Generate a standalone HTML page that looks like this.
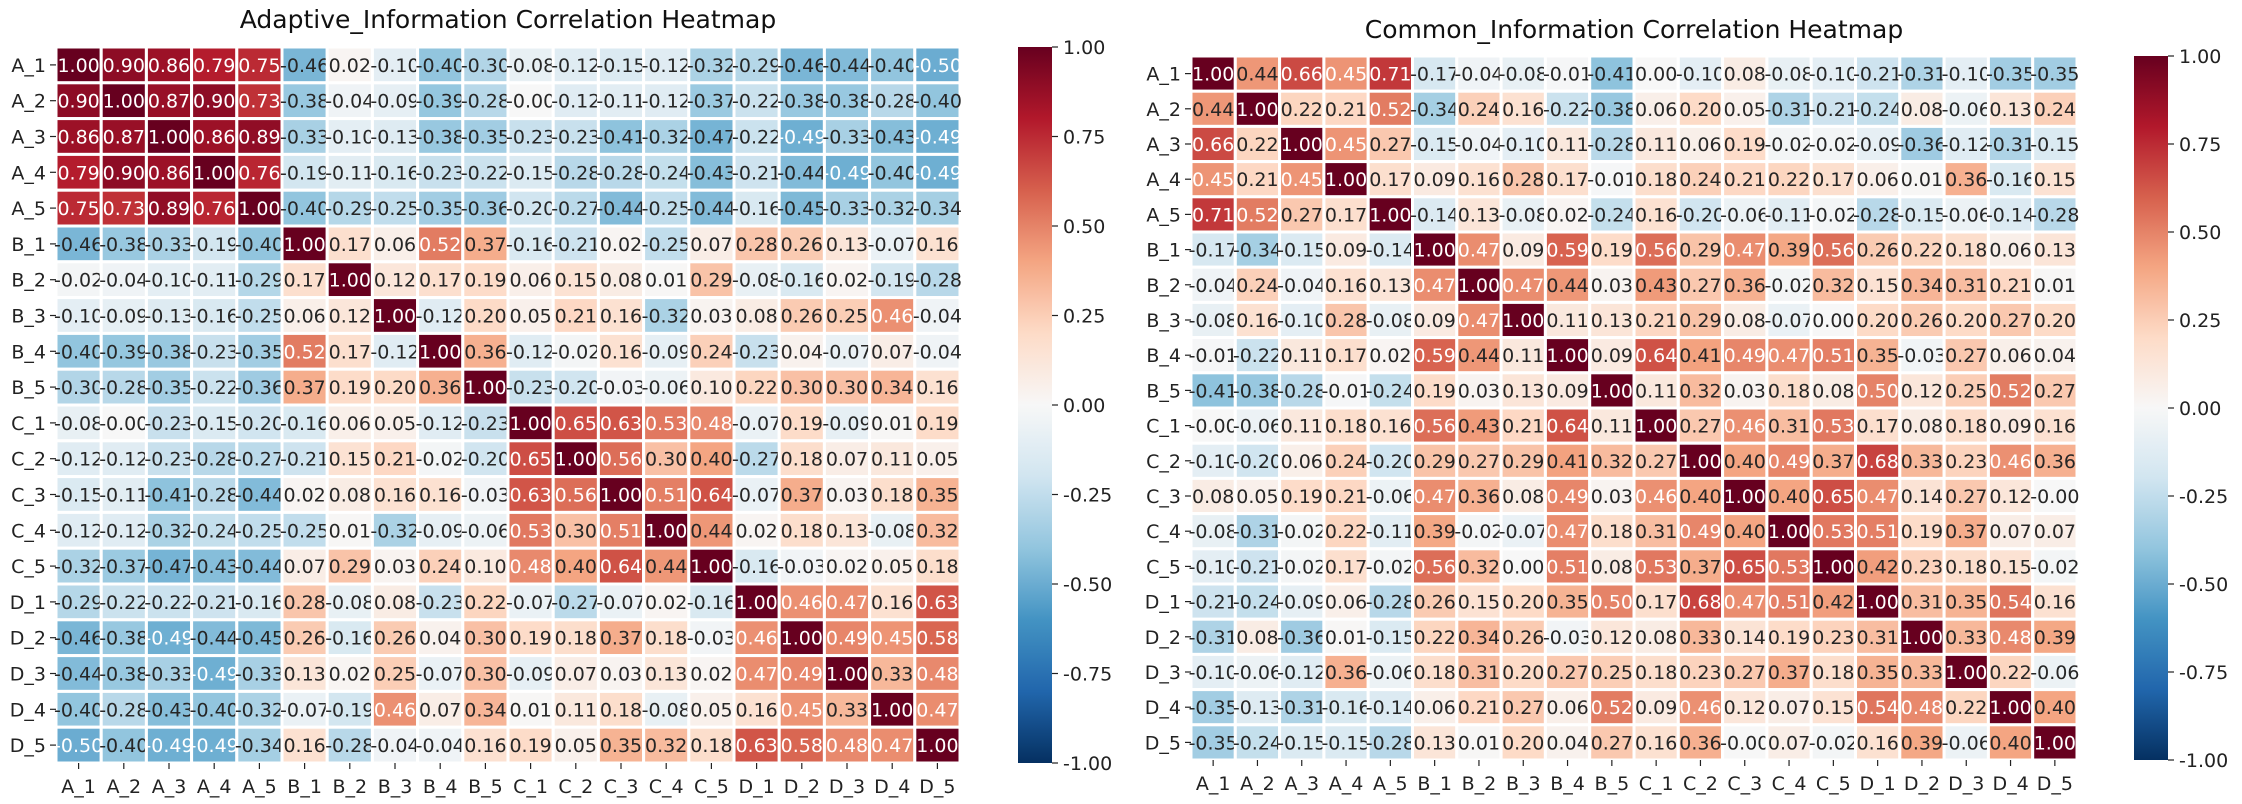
<!DOCTYPE html>
<html><head><meta charset="utf-8"><style>
html,body{margin:0;padding:0;background:#fff;}
svg{display:block;font-family:"DejaVu Sans","Liberation Sans",sans-serif;}
</style></head><body>
<svg id="chart" width="2242" height="804" viewBox="0 0 2242 804" xmlns="http://www.w3.org/2000/svg"></svg>
<script>
const labels = ["A_1","A_2","A_3","A_4","A_5","B_1","B_2","B_3","B_4","B_5","C_1","C_2","C_3","C_4","C_5","D_1","D_2","D_3","D_4","D_5"];
const cbarTicks = [1.00,0.75,0.50,0.25,0.00,-0.25,-0.50,-0.75,-1.00];
const adaptiveValues = [
[1.00,0.90,0.86,0.79,0.75,-0.46,0.02,-0.10,-0.40,-0.30,-0.08,-0.12,-0.15,-0.12,-0.32,-0.29,-0.46,-0.44,-0.40,-0.50],
[0.90,1.00,0.87,0.90,0.73,-0.38,-0.04,-0.09,-0.39,-0.28,-0.00,-0.12,-0.11,-0.12,-0.37,-0.22,-0.38,-0.38,-0.28,-0.40],
[0.86,0.87,1.00,0.86,0.89,-0.33,-0.10,-0.13,-0.38,-0.35,-0.23,-0.23,-0.41,-0.32,-0.47,-0.22,-0.49,-0.33,-0.43,-0.49],
[0.79,0.90,0.86,1.00,0.76,-0.19,-0.11,-0.16,-0.23,-0.22,-0.15,-0.28,-0.28,-0.24,-0.43,-0.21,-0.44,-0.49,-0.40,-0.49],
[0.75,0.73,0.89,0.76,1.00,-0.40,-0.29,-0.25,-0.35,-0.36,-0.20,-0.27,-0.44,-0.25,-0.44,-0.16,-0.45,-0.33,-0.32,-0.34],
[-0.46,-0.38,-0.33,-0.19,-0.40,1.00,0.17,0.06,0.52,0.37,-0.16,-0.21,0.02,-0.25,0.07,0.28,0.26,0.13,-0.07,0.16],
[-0.02,-0.04,-0.10,-0.11,-0.29,0.17,1.00,0.12,0.17,0.19,0.06,0.15,0.08,0.01,0.29,-0.08,-0.16,0.02,-0.19,-0.28],
[-0.10,-0.09,-0.13,-0.16,-0.25,0.06,0.12,1.00,-0.12,0.20,0.05,0.21,0.16,-0.32,0.03,0.08,0.26,0.25,0.46,-0.04],
[-0.40,-0.39,-0.38,-0.23,-0.35,0.52,0.17,-0.12,1.00,0.36,-0.12,-0.02,0.16,-0.09,0.24,-0.23,0.04,-0.07,0.07,-0.04],
[-0.30,-0.28,-0.35,-0.22,-0.36,0.37,0.19,0.20,0.36,1.00,-0.23,-0.20,-0.03,-0.06,0.10,0.22,0.30,0.30,0.34,0.16],
[-0.08,-0.00,-0.23,-0.15,-0.20,-0.16,0.06,0.05,-0.12,-0.23,1.00,0.65,0.63,0.53,0.48,-0.07,0.19,-0.09,0.01,0.19],
[-0.12,-0.12,-0.23,-0.28,-0.27,-0.21,0.15,0.21,-0.02,-0.20,0.65,1.00,0.56,0.30,0.40,-0.27,0.18,0.07,0.11,0.05],
[-0.15,-0.11,-0.41,-0.28,-0.44,0.02,0.08,0.16,0.16,-0.03,0.63,0.56,1.00,0.51,0.64,-0.07,0.37,0.03,0.18,0.35],
[-0.12,-0.12,-0.32,-0.24,-0.25,-0.25,0.01,-0.32,-0.09,-0.06,0.53,0.30,0.51,1.00,0.44,0.02,0.18,0.13,-0.08,0.32],
[-0.32,-0.37,-0.47,-0.43,-0.44,0.07,0.29,0.03,0.24,0.10,0.48,0.40,0.64,0.44,1.00,-0.16,-0.03,0.02,0.05,0.18],
[-0.29,-0.22,-0.22,-0.21,-0.16,0.28,-0.08,0.08,-0.23,0.22,-0.07,-0.27,-0.07,0.02,-0.16,1.00,0.46,0.47,0.16,0.63],
[-0.46,-0.38,-0.49,-0.44,-0.45,0.26,-0.16,0.26,0.04,0.30,0.19,0.18,0.37,0.18,-0.03,0.46,1.00,0.49,0.45,0.58],
[-0.44,-0.38,-0.33,-0.49,-0.33,0.13,0.02,0.25,-0.07,0.30,-0.09,0.07,0.03,0.13,0.02,0.47,0.49,1.00,0.33,0.48],
[-0.40,-0.28,-0.43,-0.40,-0.32,-0.07,-0.19,0.46,0.07,0.34,0.01,0.11,0.18,-0.08,0.05,0.16,0.45,0.33,1.00,0.47],
[-0.50,-0.40,-0.49,-0.49,-0.34,0.16,-0.28,-0.04,-0.04,0.16,0.19,0.05,0.35,0.32,0.18,0.63,0.58,0.48,0.47,1.00]
];
const commonValues = [
[1.00,0.44,0.66,0.45,0.71,-0.17,-0.04,-0.08,-0.01,-0.41,0.00,-0.10,0.08,-0.08,-0.10,-0.21,-0.31,-0.10,-0.35,-0.35],
[0.44,1.00,0.22,0.21,0.52,-0.34,0.24,0.16,-0.22,-0.38,0.06,0.20,0.05,-0.31,-0.21,-0.24,0.08,-0.06,0.13,0.24],
[0.66,0.22,1.00,0.45,0.27,-0.15,-0.04,-0.10,0.11,-0.28,0.11,0.06,0.19,-0.02,-0.02,-0.09,-0.36,-0.12,-0.31,-0.15],
[0.45,0.21,0.45,1.00,0.17,0.09,0.16,0.28,0.17,-0.01,0.18,0.24,0.21,0.22,0.17,0.06,0.01,0.36,-0.16,0.15],
[0.71,0.52,0.27,0.17,1.00,-0.14,0.13,-0.08,0.02,-0.24,0.16,-0.20,-0.06,-0.11,-0.02,-0.28,-0.15,-0.06,-0.14,-0.28],
[-0.17,-0.34,-0.15,0.09,-0.14,1.00,0.47,0.09,0.59,0.19,0.56,0.29,0.47,0.39,0.56,0.26,0.22,0.18,0.06,0.13],
[-0.04,0.24,-0.04,0.16,0.13,0.47,1.00,0.47,0.44,0.03,0.43,0.27,0.36,-0.02,0.32,0.15,0.34,0.31,0.21,0.01],
[-0.08,0.16,-0.10,0.28,-0.08,0.09,0.47,1.00,0.11,0.13,0.21,0.29,0.08,-0.07,0.00,0.20,0.26,0.20,0.27,0.20],
[-0.01,-0.22,0.11,0.17,0.02,0.59,0.44,0.11,1.00,0.09,0.64,0.41,0.49,0.47,0.51,0.35,-0.03,0.27,0.06,0.04],
[-0.41,-0.38,-0.28,-0.01,-0.24,0.19,0.03,0.13,0.09,1.00,0.11,0.32,0.03,0.18,0.08,0.50,0.12,0.25,0.52,0.27],
[-0.00,-0.06,0.11,0.18,0.16,0.56,0.43,0.21,0.64,0.11,1.00,0.27,0.46,0.31,0.53,0.17,0.08,0.18,0.09,0.16],
[-0.10,-0.20,0.06,0.24,-0.20,0.29,0.27,0.29,0.41,0.32,0.27,1.00,0.40,0.49,0.37,0.68,0.33,0.23,0.46,0.36],
[0.08,0.05,0.19,0.21,-0.06,0.47,0.36,0.08,0.49,0.03,0.46,0.40,1.00,0.40,0.65,0.47,0.14,0.27,0.12,-0.00],
[-0.08,-0.31,-0.02,0.22,-0.11,0.39,-0.02,-0.07,0.47,0.18,0.31,0.49,0.40,1.00,0.53,0.51,0.19,0.37,0.07,0.07],
[-0.10,-0.21,-0.02,0.17,-0.02,0.56,0.32,0.00,0.51,0.08,0.53,0.37,0.65,0.53,1.00,0.42,0.23,0.18,0.15,-0.02],
[-0.21,-0.24,-0.09,0.06,-0.28,0.26,0.15,0.20,0.35,0.50,0.17,0.68,0.47,0.51,0.42,1.00,0.31,0.35,0.54,0.16],
[-0.31,0.08,-0.36,0.01,-0.15,0.22,0.34,0.26,-0.03,0.12,0.08,0.33,0.14,0.19,0.23,0.31,1.00,0.33,0.48,0.39],
[-0.10,-0.06,-0.12,0.36,-0.06,0.18,0.31,0.20,0.27,0.25,0.18,0.23,0.27,0.37,0.18,0.35,0.33,1.00,0.22,-0.06],
[-0.35,-0.13,-0.31,-0.16,-0.14,0.06,0.21,0.27,0.06,0.52,0.09,0.46,0.12,0.07,0.15,0.54,0.48,0.22,1.00,0.40],
[-0.35,-0.24,-0.15,-0.15,-0.28,0.13,0.01,0.20,0.04,0.27,0.16,0.36,-0.00,0.07,-0.02,0.16,0.39,-0.06,0.40,1.00]
];

const NS = "http://www.w3.org/2000/svg";
const svg = document.getElementById('chart');
const stops = ["#053061","#2166ac","#4393c3","#92c5de","#d1e5f0","#f7f7f7","#fddbc7","#f4a582","#d6604d","#b2182b","#67001f"].map(h=>[parseInt(h.slice(1,3),16),parseInt(h.slice(3,5),16),parseInt(h.slice(5,7),16)]);
function cmap(v){
  let t = (Math.max(-1,Math.min(1,v))+1)/2*10;
  let i = Math.min(9,Math.floor(t)), f = t-i;
  return stops[i].map((c,k)=>Math.round(c+(stops[i+1][k]-c)*f));
}
function lum(c){
  const l = c.map(x=>{x/=255;return x<=0.03928?x/12.92:Math.pow((x+0.055)/1.055,2.4);});
  return 0.2126*l[0]+0.7152*l[1]+0.0722*l[2];
}
function mk(tag, attrs, parent){
  const e = document.createElementNS(NS, tag);
  for (const k in attrs) e.setAttribute(k, attrs[k]);
  (parent||svg).appendChild(e);
  return e;
}
function fmt(v){ return (Object.is(v,-0) ? '-' : '') + v.toFixed(2); }

function drawHeatmap(cfg){
  const g = mk('g', {});
  
  
  const n = labels.length;
  const cw = cfg.w/n, ch = cfg.h/n;
  const xs = i => cfg.x + i*cw;
  const ys = i => cfg.y + i*ch;
  const title = mk('text', {x: cfg.x+cfg.w/2, y: cfg.titleY, 'text-anchor':'middle', 'font-size':25, fill:'#111'}, g);
  title.textContent = cfg.title;
  
  
  cfg.values.forEach((row, r) => {
    row.forEach((v, c) => {
      const col = cmap(v);
      const rect = mk('rect', {x: xs(c), y: ys(r), width: cw, height: ch, fill: `rgb(${col})`, stroke:'#fff', 'stroke-width':3}, g);
      
      
      const t = mk('text', {x: xs(c)+cw/2, y: ys(r)+ch/2+7, 'text-anchor':'middle', 'font-size':19, fill: lum(col)>0.408?'#262626':'#ffffff'}, g);
      t.textContent = fmt(v);
      
      
    });
  });
  labels.forEach((l, i) => {
    mk('line', {x1: cfg.x-6, x2: cfg.x, y1: ys(i)+ch/2, y2: ys(i)+ch/2, stroke:'#222', 'stroke-width':1.2}, g);
    const yl = mk('text', {x: cfg.x-10, y: ys(i)+ch/2+7, 'text-anchor':'end', 'font-size':19, fill:'#222'}, g);
    yl.textContent = l;
    
    
    mk('line', {x1: xs(i)+cw/2, x2: xs(i)+cw/2, y1: cfg.y+cfg.h, y2: cfg.y+cfg.h+6, stroke:'#222', 'stroke-width':1.2}, g);
    const xl = mk('text', {x: xs(i)+cw/2, y: cfg.y+cfg.h+30, 'text-anchor':'middle', 'font-size':19, fill:'#222'}, g);
    xl.textContent = l;
    
    
  });
  const gid = 'grad-' + cfg.name;
  const defs = mk('defs', {}, g);
  const lg = mk('linearGradient', {id: gid, x1:0, y1:1, x2:0, y2:0}, defs);
  for (let k=0;k<=40;k++){ const v=-1+k/20; mk('stop', {offset: (k/40), 'stop-color': `rgb(${cmap(v)})`}, lg); }
  const cb = mk('rect', {x: cfg.cbX, y: cfg.y, width: 34, height: cfg.h, fill: `url(#${gid})`}, g);
  
  
  cbarTicks.forEach(v => {
    const yy = cfg.y + (1-v)/2*cfg.h;
    mk('line', {x1: cfg.cbX+34, x2: cfg.cbX+40, y1: yy, y2: yy, stroke:'#222', 'stroke-width':1.2}, g);
    const t = mk('text', {x: cfg.cbX+45, y: yy+7, 'font-size':19, fill:'#222'}, g);
    t.textContent = fmt(v);
    
    
  });
}
drawHeatmap({name:'adaptive-heatmap', title:'Adaptive_Information Correlation Heatmap', values: adaptiveValues, x:56, y:47, w:904, h:716, titleY:28, cbX:1018});
drawHeatmap({name:'common-heatmap', title:'Common_Information Correlation Heatmap', values: commonValues, x:1191, y:56, w:886, h:704, titleY:38, cbX:2134});
</script>
</body></html>
